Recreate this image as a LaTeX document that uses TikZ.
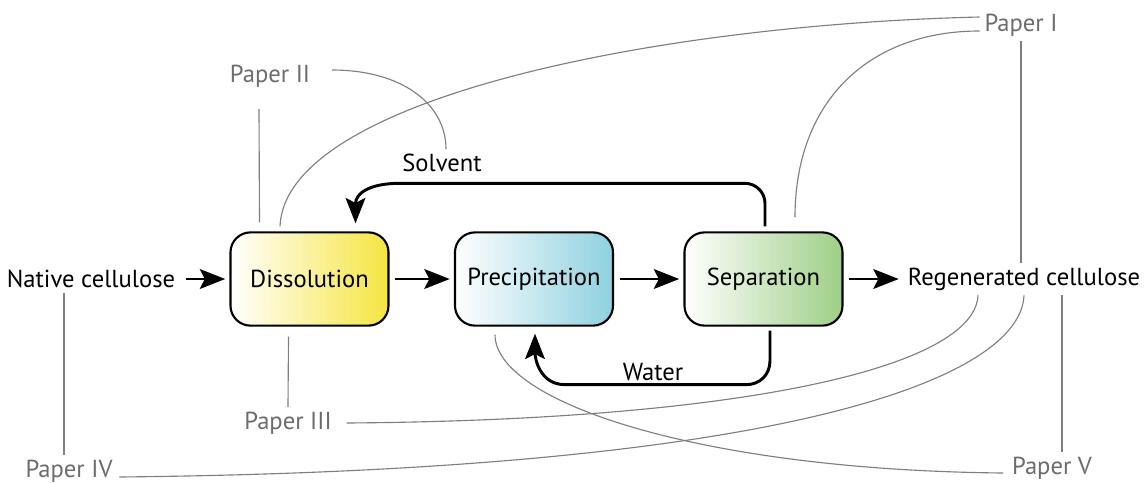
\documentclass[tikz,border=0pt]{standalone}
\usepackage{fontspec}
\setmainfont{PT Sans}
\usetikzlibrary{arrows.meta,calc}
\definecolor{dyellow}{HTML}{F5E540}
\definecolor{pblue}{HTML}{8ED1DF}
\definecolor{sgreen}{HTML}{9ECF86}
\definecolor{pgray}{HTML}{6C6C6C}
\definecolor{lgray}{HTML}{7E7E7E}

\begin{document}
\begin{tikzpicture}[x=0.025cm,y=-0.025cm,font=\fontsize{17.5}{20}\selectfont,
stage/.style={draw,line width=1.5pt,rounded corners=0.5cm,minimum width=3.95cm,minimum height=2.33cm,left color=white,right color=#1},
tip/.style={-{Stealth[length=18pt,width=14pt,inset=3.5pt]}},
flow/.style={tip,line width=2.1pt,shorten <=4pt,shorten >=3pt},
back/.style={tip,line width=2.1pt},
paper/.style={text=pgray},
ref/.style={draw=lgray,line width=0.8pt}]
\useasboundingbox(0,0)rectangle(1146,482);
\node(nat)at(91,279){Native cellulose};\node(reg)at(1024,279){Regenerated cellulose};
\foreach\n/\t/\c/\x in{dis/Dissolution/dyellow/309.5,pre/Precipitation/pblue/534,sep/Separation/sgreen/763.5}{\node[stage=\c](\n)at(\x,279){\t};}
\foreach\a/\b in{nat/dis,dis/pre,pre/sep,sep/reg}{\draw[flow](\a)--(\b);}
\node(solv)at(442,163){Solvent};\node(wat)at(653,372){Water};
\draw[back]($(sep.north)+(1.5,-5)$)--($(sep.north)+(1.5,-28)$)..controls+(0,-11)and+(11,0)..($(sep.north)+(-18.5,-48)$)--($(dis.north)+(90,-48)$)..controls+(-30,0)and+(0,-30)..($(dis.north)+(46,-8)$);
\draw[back]($(sep.south)+(6.5,4)$)--($(sep.south)+(6.5,34)$)..controls+(0,14)and+(14,0)..($(sep.south)+(-17.5,58)$)--($(pre.south)+(31,58)$)..controls+(-25,0)and+(0,25)..($(pre.south)+(1,7)$);
\foreach\n/\r/\x/\y in{p1/I/1021/25,p2/II/270/76,p3/III/288/423,p4/IV/69/471,p5/V/1052/468}{\node[paper](\n)at(\x,\y){Paper \r};}
\draw[ref]($(p1.west)+(0,-8)$)..controls+(-330,8)and+(5,-126)..($(dis.north)+(-29.5,-5)$);
\draw[ref]($(p1.west)+(0,6)$)..controls+(-110,0)and+(0,-117)..($(sep.north)+(31.5,-14)$);
\draw[ref](p1.south)--(p1.south|-reg.north);
\draw[ref]($(p2.east)+(17,-6)$)..controls+(70,0)and+(0,-45)..($(solv.north)+(4,0)$);
\draw[ref]($(p2.south)+(-11,17)$)--($(dis.north)+(-50,-9)$);
\draw[ref]($(dis.south)+(-21,10)$)--(p3.north);
\draw[ref]($(p3.east)+(10,0)$)..controls+(407,-3)and+(-3,70)..($(reg.south)+(-46,0)$);
\draw[ref]($(nat.south)+(-27,0)$)--($(p4.north)+(-5,0)$);
\draw[ref]($(p4.east)+(2,6)$)..controls+(682,-7)and+(-3,80)..(reg.south);
\draw[ref]($(reg.south)+(38,0)$)--($(p5.north)+(10,0)$);
\draw[ref]($(pre.south)+(-39,8)$)..controls+(0,67)and+(-305,-3)..($(p5.west)+(-4,5)$);
\end{tikzpicture}
\end{document}
